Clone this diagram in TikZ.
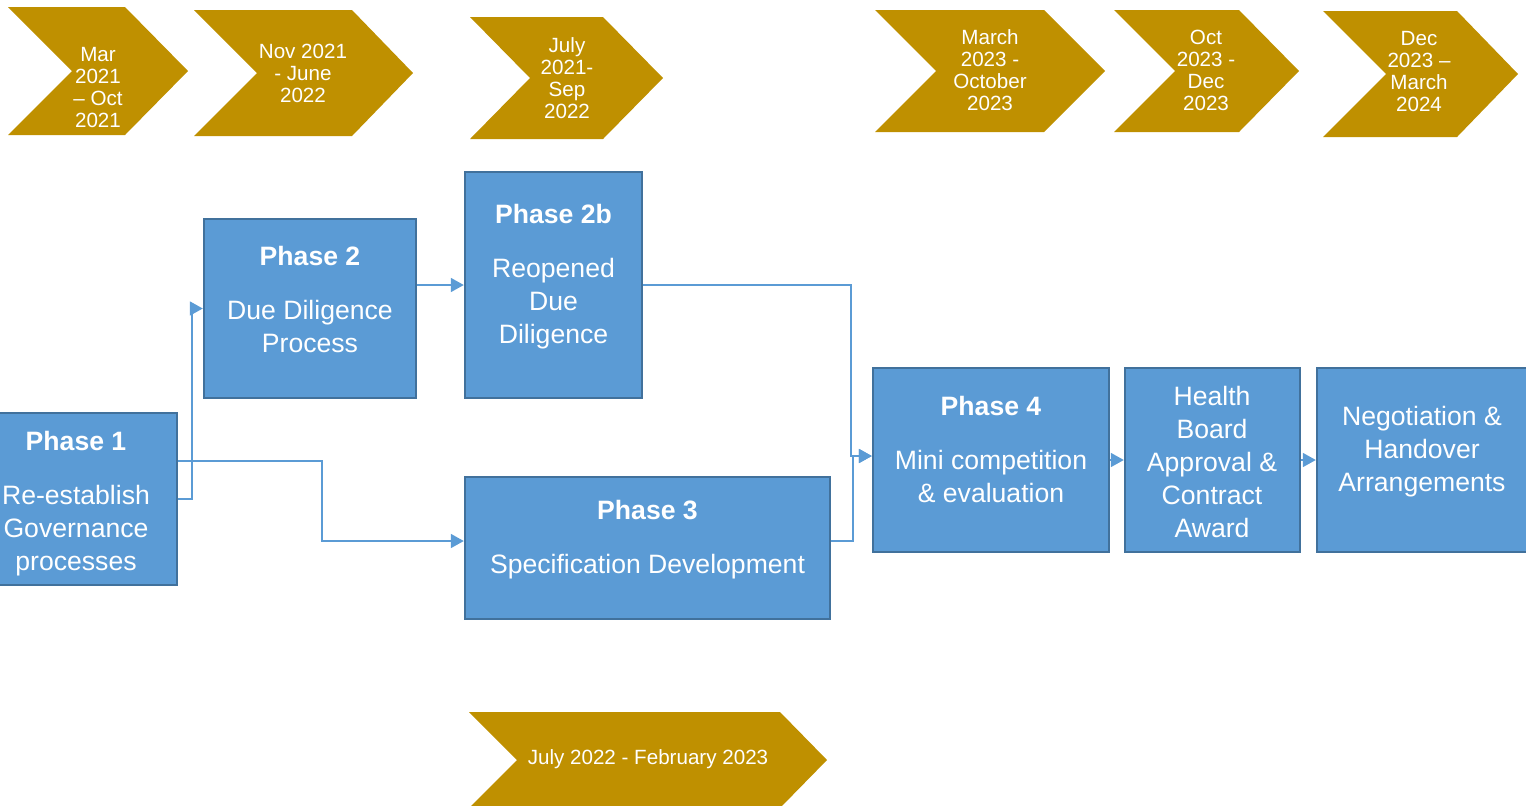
\documentclass[tikz,border=0pt]{standalone}
\usepackage{fontspec}
\setmainfont{Liberation Sans}
\usetikzlibrary{arrows.meta}
\definecolor{gold}{HTML}{BF9000}
\definecolor{phaseblue}{HTML}{5B9BD5}
\definecolor{phaseedge}{HTML}{41719C}

\begin{document}
\begin{tikzpicture}[x=0.5pt, y=-0.5pt,
    chev/.style={fill=gold},
    chevtext/.style={text=white, align=center, inner sep=0pt, font=\fontsize{10.3}{11}\selectfont},
    phase/.style={draw=phaseedge, fill=phaseblue, line width=1.2pt, inner sep=0pt},
    phasetext/.style={text=white, align=center, inner sep=0pt, font=\fontsize{13.3}{16.5}\selectfont},
    conn/.style={draw=phaseblue, line width=0.8pt, -{Triangle[length=6.5pt,width=7pt]}}]

    \useasboundingbox (0,0) rectangle (1526,805);
    \clip (0,0) rectangle (1526,805);

    % timeline
    \fill[chev] (8,7) -- (125,7) -- (188,71) -- (125,135) -- (8,135) -- (72,71) -- cycle;
    \node[chevtext] (c1) at (98,88) {Mar\\2021\\– Oct\\2021};

    \fill[chev] (194,10) -- (352,10) -- (413,73) -- (352,136) -- (194,136) -- (257,73) -- cycle;
    \node[chevtext] (c2) at (303,73) {Nov 2021\\- June\\2022};

    \fill[chev] (470,17) -- (603,17) -- (663,78) -- (603,139) -- (470,139) -- (530,78) -- cycle;
    \node[chevtext] (c3) at (567,78) {July\\2021-\\Sep\\2022};

    \fill[chev] (875,10) -- (1044,10) -- (1105,71) -- (1044,132) -- (875,132) -- (936,71) -- cycle;
    \node[chevtext] (c4) at (990,70) {March\\2023 -\\October\\2023};

    \fill[chev] (1114,10) -- (1239,10) -- (1299,71) -- (1239,132) -- (1114,132) -- (1175,71) -- cycle;
    \node[chevtext] (c5) at (1206,70) {Oct\\2023 -\\Dec\\2023};

    \fill[chev] (1323,11) -- (1457,11) -- (1518,74) -- (1457,137) -- (1323,137) -- (1386,74) -- cycle;
    \node[chevtext] (c6) at (1419,72) {Dec\\2023 –\\March\\2024};

    \fill[chev] (469,712) -- (780,712) -- (827,760) -- (780,808) -- (469,808) -- (517,760) -- cycle;
    \node[chevtext] (c7) at (648,759) {July 2022 - February 2023};

    % phases
    \node[phase, minimum width=101pt, minimum height=86pt] (p1) at (76,499) {};
    \node[phasetext] (p1t) at (76,504) {\textbf{Phase 1}\\[10.5pt]Re-establish\\Governance\\processes};

    \node[phase, minimum width=106pt, minimum height=89.5pt] (p2) at (310,308.5) {};
    \node[phasetext] (p2t) at (310,299) {\textbf{Phase 2}\\[10.5pt]Due Diligence\\Process};

    \node[phase, minimum width=88.5pt, minimum height=113pt] (p2b) at (553.5,285) {};
    \node[phasetext] (p2bt) at (553.5,277) {\textbf{Phase 2b}\\[10.5pt]Reopened\\Due\\Diligence};

    \node[phase, minimum width=182.5pt, minimum height=71pt] (p3) at (647.5,548) {};
    \node[phasetext] (p3t) at (647.5,540) {\textbf{Phase 3}\\[10.5pt]Specification Development};

    \node[phase, minimum width=118pt, minimum height=92pt] (p4) at (991,460) {};
    \node[phasetext] (p4t) at (991,449.5) {\textbf{Phase 4}\\[10.5pt]Mini competition\\\& evaluation};

    \node[phase, minimum width=87.5pt, minimum height=92pt] (hb) at (1212.5,460) {};
    \node[phasetext] (hbt) at (1212,462) {Health\\Board\\Approval \&\\Contract\\Award};

    \node[phase, minimum width=105.5pt, minimum height=92pt] (neg) at (1422.5,460) {};
    \node[phasetext] (negt) at (1422,452) {Negotiation \&\\Handover\\Arrangements};

    % connectors
    \draw[conn] (p1.east) -- ++(14,0) |- (p2.west);
    \draw[conn] ([yshift=19pt]p1.east) -- ++(144,0) |- ([yshift=3.5pt]p3.west);
    \draw[conn] (p2.east |- p2b.west) -- (p2b.west);
    \draw[conn] (p2b.east) -- ++(208,0) |- ([yshift=2pt]p4.west);
    \draw[conn] ([yshift=3.5pt]p3.east) -- ++(22,0) |- ([yshift=2pt]p4.west);
    \draw[conn] (p4.east) -- (hb.west);
    \draw[conn] (hb.east) -- (neg.west);
\end{tikzpicture}
\end{document}
